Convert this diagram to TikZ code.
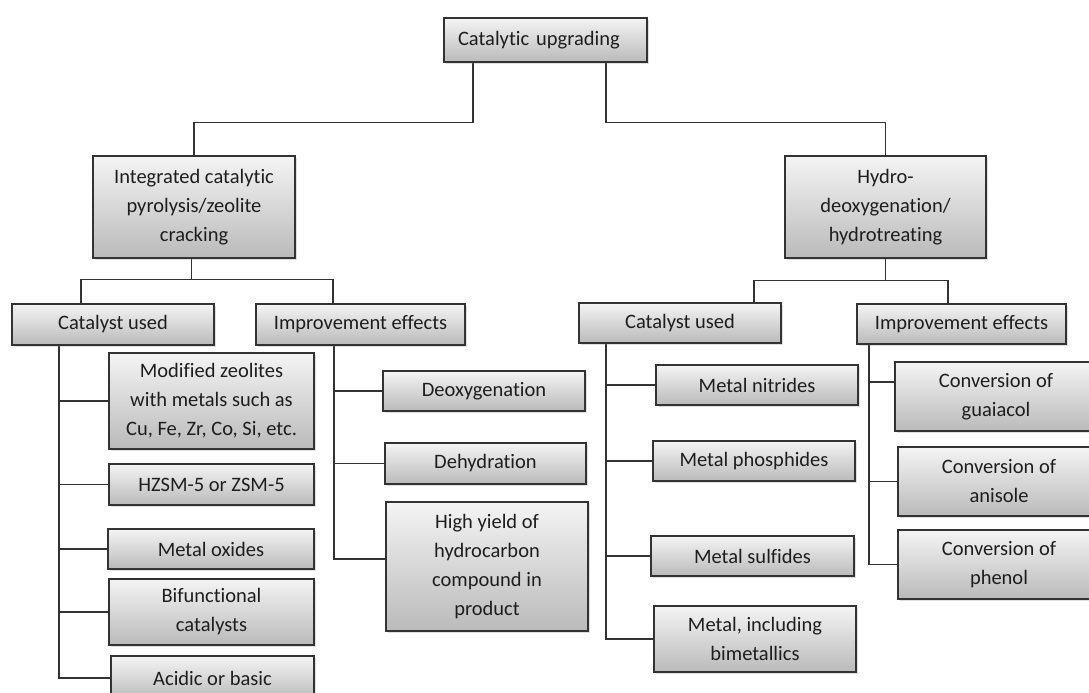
\documentclass[tikz,border=0pt]{standalone}
\usepackage{fontspec}
\setmainfont{Carlito}[Ligatures=NoCommon]
\usetikzlibrary{shadows,backgrounds}
\definecolor{bord}{HTML}{333333}
\definecolor{topc}{HTML}{F4F4F4}
\definecolor{botc}{HTML}{BABABA}
\definecolor{txt}{HTML}{1E1E1E}
\tikzset{
 box/.style={draw=bord, line width=1.3pt, top color=topc, bottom color=botc, inner sep=0pt,
   align=center, text=txt, font=\fontsize{20.5}{29}\selectfont,
   drop shadow={shadow xshift=1.5pt, shadow yshift=-2pt, opacity=0.25}},
 conn/.style={draw=bord, line width=1.2pt},
}
\begin{document}
\begin{tikzpicture}[x=1pt,y=-1pt]
\useasboundingbox (0,0) rectangle (1089,693);
\clip (0,0) rectangle (1089,693);
% level 0
\node[box, minimum width=203pt, minimum height=44pt, text width=175pt, align=left, inner xsep=14pt] (root) at (545.5,40) {Catalytic upgrading};
% level 1
\node[box, minimum width=202pt, minimum height=102pt] (ic) at (194,207) {Integrated catalytic\\pyrolysis/zeolite\\cracking};
\node[box, minimum width=201pt, minimum height=102pt] (hd) at (885.5,207) {Hydro-\\deoxygenation/\\hydrotreating};
% level 2
\node[box, minimum width=202pt, minimum height=41pt] (cuL) at (113,324.5) {Catalyst used};
\node[box, minimum width=209pt, minimum height=41pt] (ieL) at (360.5,324.5) {Improvement effects};
\node[box, minimum width=202pt, minimum height=40pt] (cuR) at (680,323) {Catalyst used};
\node[box, minimum width=209pt, minimum height=40pt] (ieR) at (961.5,324) {Improvement effects};
% catalyst used (left)
\node[box, minimum width=205pt, minimum height=96pt] (mz) at (211.5,401) {Modified zeolites\\with metals such as\\Cu, Fe, Zr, Co, Si, etc.};
\node[box, minimum width=205pt, minimum height=41pt] (hz) at (211.5,484.5) {HZSM-5 or ZSM-5};
\node[box, minimum width=206pt, minimum height=40pt] (mo) at (211,549) {Metal oxides};
\node[box, minimum width=205pt, minimum height=66pt] (bf) at (211.5,612) {Bifunctional\\catalysts};
\node[box, minimum width=203pt, minimum height=44pt] (ab) at (212.5,678) {Acidic or basic};
% improvement effects (left)
\node[box, minimum width=202pt, minimum height=40pt] (deo) at (484,391) {Deoxygenation};
\node[box, minimum width=201pt, minimum height=41pt] (deh) at (485.5,463.5) {Dehydration};
\node[box, minimum width=202pt, minimum height=129pt] (hy) at (487,566.5) {High yield of\\hydrocarbon\\compound in\\product};
% catalyst used (right)
\node[box, minimum width=202pt, minimum height=40pt] (mn) at (757,385) {Metal nitrides};
\node[box, minimum width=202pt, minimum height=40pt] (mp) at (754,461) {Metal phosphides};
\node[box, minimum width=203pt, minimum height=40pt] (ms) at (752.5,556) {Metal sulfides};
\node[box, minimum width=202pt, minimum height=66pt] (mb) at (755,639) {Metal, including\\bimetallics};
% improvement effects (right)
\node[box, minimum width=202pt, minimum height=69pt] (cg) at (996,396.5) {Conversion of\\guaiacol};
\node[box, minimum width=202pt, minimum height=69pt] (ca) at (999,481.5) {Conversion of\\anisole};
\node[box, minimum width=202pt, minimum height=69pt] (cp) at (999,564.5) {Conversion of\\phenol};
% connectors
\begin{scope}[on background layer]
\fill[white] (0,0) rectangle (1089,693);
\draw[conn] ([xshift=-72.5pt]root.south) -- ++(0,60) -| (ic.north);
\draw[conn] ([xshift=60.5pt]root.south) -- ++(0,60) -| (hd.north);
\draw[conn] ([xshift=-2.5pt]ic.south) -- ++(0,21) -| ([xshift=-32pt]cuL.north);
\draw[conn] ([xshift=-2.5pt]ic.south) -- ++(0,21) -| ([xshift=-27.5pt]ieL.north);
\draw[conn] (hd.south) -- ++(0,22) -| ([xshift=74pt]cuR.north);
\draw[conn] (hd.south) -- ++(0,22) -| ([xshift=-13.5pt]ieR.north);
\foreach \c in {mz,hz,mo,bf,ab} \draw[conn] ([xshift=-54pt]cuL.south) |- (\c.west);
\foreach \c in {deo,deh} \draw[conn] ([xshift=-26.5pt]ieL.south) |- (\c.west);
\draw[conn] ([xshift=-26.5pt]ieL.south) |- ([yshift=7.5pt]hy.west);
\foreach \c in {mn,mp,ms,mb} \draw[conn] ([xshift=-74pt]cuR.south) |- (\c.west);
\draw[conn] ([xshift=-92.5pt]ieR.south) |- ([yshift=14.5pt]cg.west);
\foreach \c in {ca,cp} \draw[conn] ([xshift=-92.5pt]ieR.south) |- (\c.west);
\end{scope}
\end{tikzpicture}
\end{document}
